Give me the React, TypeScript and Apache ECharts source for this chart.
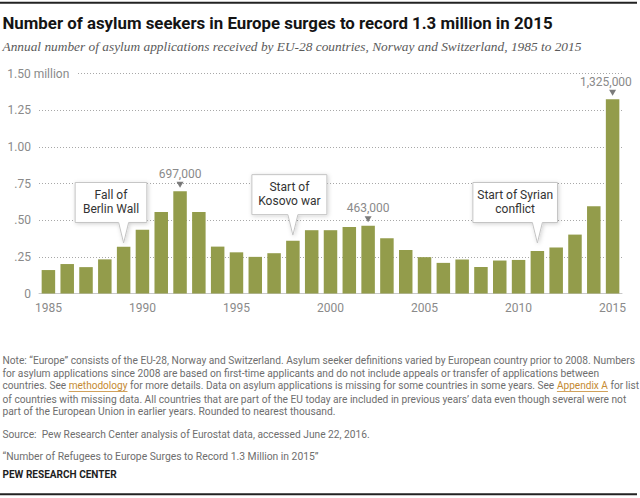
import React, { useEffect, useRef } from 'react';
import * as echarts from 'echarts';

// ---------- data ----------
const YEARS = [
  '1985', '1986', '1987', '1988', '1989', '1990', '1991', '1992', '1993', '1994',
  '1995', '1996', '1997', '1998', '1999', '2000', '2001', '2002', '2003', '2004',
  '2005', '2006', '2007', '2008', '2009', '2010', '2011', '2012', '2013', '2014', '2015',
];
// asylum applications, in millions
const APPLICATIONS = [
  0.160, 0.201, 0.180, 0.233, 0.319, 0.435, 0.556, 0.697, 0.556, 0.320,
  0.281, 0.250, 0.275, 0.360, 0.432, 0.432, 0.454, 0.463, 0.377, 0.297,
  0.248, 0.209, 0.232, 0.181, 0.225, 0.229, 0.290, 0.314, 0.402, 0.595, 1.325,
];
const Y_MAX = 1.5;
const Y_STEP = 0.25;
const LABELED_YEARS = ['1992', '2002', '2015'];
const EVENT_YEARS = ['1989', '1998', '2011'];
const EVENT_TEXT = [
  ['Fall of', 'Berlin Wall'],
  ['Start of', 'Kosovo war'],
  ['Start of Syrian', 'conflict'],
];

const TITLE = 'Number of asylum seekers in Europe surges to record 1.3 million in 2015';
const SUBTITLE =
  'Annual number of asylum applications received by EU-28 countries, Norway and Switzerland, 1985 to 2015';
const NOTE_LINES: { t: string; link?: boolean }[][] = [
  [{ t: 'Note: \u201cEurope\u201d consists of the EU-28, Norway and Switzerland. Asylum seeker definitions varied by European country prior to 2008. Numbers' }],
  [{ t: 'for asylum applications since 2008 are based on first-time applicants and do not include appeals or transfer of applications between' }],
  [
    { t: 'countries. See ' },
    { t: 'methodology', link: true },
    { t: ' for more details. Data on asylum applications is missing for some countries in some years. See ' },
    { t: 'Appendix A', link: true },
    { t: ' for list' },
  ],
  [{ t: 'of countries with missing data. All countries that are part of the EU today are included in previous years\u2019 data even though several were not' }],
  [{ t: 'part of the European Union in earlier years. Rounded to nearest thousand.' }],
];
const SOURCE = 'Source:  Pew Research Center analysis of Eurostat data, accessed June 22, 2016.';
const QUOTE = '\u201cNumber of Refugees to Europe Surges to Record 1.3 Million in 2015\u201d';
const BRAND = 'PEW RESEARCH CENTER';

// ---------- styles / layout ----------
const BAR_COLOR = '#939c4b';
const AXIS_TEXT = '#8a8a8a';
const NOTE_COLOR = '#6e6e6e';
const LINK_COLOR = '#c58a32';
const SANS = "Roboto, 'Liberation Sans', sans-serif";
const NARROW = "'Liberation Sans Narrow', Roboto, sans-serif";
const SERIF = "'Liberation Serif', 'DejaVu Serif', serif";
const LABEL_OFFSETS: Record<string, number[]> = { '2015': [-6.7, 0] };
const CALLOUT_GEOM = [
  { left: -48.5, width: 71.7, gap: 3.8 },
  { left: -41, width: 75, gap: 5.6 },
  { left: -64.5, width: 84.6, gap: 8 },
];
const NOTE_LAYOUT = [
  { y: 360.7, right: 636 },
  { y: 373.3, right: 599.3 },
  { y: 386, right: 639 },
  { y: 399.3, right: 626.7 },
  { y: 412, right: 336 },
];

export default function App() {
  const ref = useRef<HTMLDivElement>(null);

  useEffect(() => {
    document.body.style.margin = '0';
    const chart = echarts.init(ref.current!, null, { renderer: 'svg', width: 640, height: 498 });

    const fmtThousands = (v: number) => Math.round(v * 1e6).toLocaleString('en-US');

    chart.setOption({
      animation: false,
      grid: { left: 39, right: 18, top: 73.7, bottom: 204.5, containLabel: false },
      xAxis: {
        type: 'category',
        data: YEARS,
        axisTick: { show: false },
        axisLine: { lineStyle: { color: '#c8c8c8', width: 1 } },
        axisLabel: { interval: 4, color: AXIS_TEXT, fontSize: 12, fontFamily: SANS, margin: 8 },
      },
      yAxis: {
        type: 'value',
        min: 0,
        max: Y_MAX,
        interval: Y_STEP,
        axisLine: { show: false },
        axisTick: { show: false },
        splitLine: { lineStyle: { type: [1, 2], color: '#a8a8a8', width: 1 } },
        axisLabel: {
          color: AXIS_TEXT,
          fontSize: 12,
          fontFamily: SANS,
          margin: 8,
          formatter: (v: number) => {
            if (v === 0) return '0';
            if (v >= Y_MAX) return '';
            if (v < 1) return '.' + String(Math.round(v * 100)).padStart(2, '0');
            return v.toFixed(2);
          },
        },
      },
      series: [
        {
          type: 'bar',
          barWidth: 13.5,
          itemStyle: { color: BAR_COLOR },
          data: APPLICATIONS.map((v, i) =>
            LABELED_YEARS.includes(YEARS[i])
              ? {
                  value: v,
                  label: {
                    show: true,
                    position: 'top',
                    distance: 11.5,
                    offset: LABEL_OFFSETS[YEARS[i]] || [0, 0],
                    formatter: (p: any) => fmtThousands(p.value),
                    color: AXIS_TEXT,
                    fontSize: 12,
                    fontFamily: SANS,
                  },
                }
              : v
          ),
        },
        {
          type: 'scatter',
          symbol: 'path://M0,0L10,0L5,8Z',
          symbolSize: [7, 6],
          symbolOffset: [0, -6.5],
          itemStyle: { color: '#5a5a5a' },
          z: 5,
          silent: true,
          data: APPLICATIONS.map((v, i) => (LABELED_YEARS.includes(YEARS[i]) ? v : '-')),
        },
      ],
    });

    // ---- text measurement for width-fitted lines ----
    const ctx = document.createElement('canvas').getContext('2d')!;
    const measure = (font: string, t: string) => {
      ctx.font = font;
      return ctx.measureText(t).width;
    };

    const graphics: any[] = [];

    const fitLine = (
      segs: { t: string; link?: boolean }[],
      x0: number,
      y: number,
      right: number,
      f: { size: number; family: string; weight?: string; style?: string },
      color: string
    ) => {
      const weight = f.weight || 'normal';
      const fstyle = f.style || 'normal';
      const fontStr = `${fstyle} ${weight} ${f.size}px ${f.family}`;
      const total = segs.reduce((a, s) => a + measure(fontStr, s.t), 0);
      const sc = (right - x0) / total;
      let acc = 0;
      segs.forEach((s) => {
        const w = measure(fontStr, s.t);
        const x = x0 + acc * sc;
        graphics.push({
          type: 'text',
          x,
          y,
          scaleX: sc,
          z: 30,
          silent: true,
          style: {
            text: s.t,
            fontSize: f.size,
            fontFamily: f.family,
            fontWeight: weight,
            fontStyle: fstyle,
            fill: s.link ? LINK_COLOR : color,
            align: 'left',
            verticalAlign: 'middle',
          },
        });
        if (s.link) {
          graphics.push({
            type: 'line',
            z: 30,
            silent: true,
            shape: { x1: x, y1: y + f.size * 0.55, x2: x + w * sc, y2: y + f.size * 0.55 },
            style: { stroke: LINK_COLOR, lineWidth: 0.8 },
          });
        }
        acc += w;
      });
    };

    // rules
    graphics.push({ type: 'rect', z: 30, silent: true, shape: { x: 0, y: 1.7, width: 637, height: 2 }, style: { fill: '#222' } });
    graphics.push({ type: 'rect', z: 30, silent: true, shape: { x: 0, y: 493.3, width: 637, height: 2 }, style: { fill: '#222' } });

    // title, subtitle
    fitLine([{ t: TITLE }], 2.5, 23.3, 552.7, { size: 17, family: SANS, weight: 'bold' }, '#141414');
    fitLine([{ t: SUBTITLE }], 2.5, 46.7, 581.7, { size: 13.5, family: SERIF, style: 'italic' }, '#5a5a5a');

    // top axis label "1.50 million"
    const topY = chart.convertToPixel({ yAxisIndex: 0 }, Y_MAX) as number;
    graphics.push({ type: 'rect', z: 10, silent: true, shape: { x: 36, y: topY - 4, width: 40.5, height: 8 }, style: { fill: '#fff' } });
    graphics.push({
      type: 'text',
      x: 7.3,
      y: topY,
      z: 11,
      silent: true,
      style: { text: Y_MAX.toFixed(2) + ' million', fontSize: 12, fontFamily: SANS, fill: AXIS_TEXT, align: 'left', verticalAlign: 'middle' },
    });

    // callouts
    EVENT_YEARS.forEach((yr, k) => {
      const idx = YEARS.indexOf(yr);
      const [cx, cy] = chart.convertToPixel({ seriesIndex: 0 }, [idx, APPLICATIONS[idx]]) as number[];
      const g = CALLOUT_GEOM[k];
      const tipY = cy - g.gap;
      const B = tipY - 20.5;
      const T = B - 40;
      const L = cx + g.left;
      const R = L + g.width;
      graphics.push({
        type: 'polygon',
        z: 20,
        silent: true,
        shape: {
          points: [
            [L, T], [R, T], [R, B], [cx + 5, B], [cx, tipY], [cx - 5, B], [L, B],
          ],
        },
        style: {
          fill: '#fff',
          stroke: '#c4c4c4',
          lineWidth: 1,
          shadowBlur: 4,
          shadowColor: 'rgba(0,0,0,0.18)',
          shadowOffsetX: 1,
          shadowOffsetY: 1,
        },
      });
      const midY = (T + B) / 2 - 0.5;
      EVENT_TEXT[k].forEach((line, j) => {
        graphics.push({
          type: 'text',
          x: (L + R) / 2,
          y: midY + (j === 0 ? -7 : 7),
          z: 21,
          silent: true,
          style: { text: line, fontSize: 12, fontFamily: SANS, fill: '#333', align: 'center', verticalAlign: 'middle' },
        });
      });
    });

    // notes
    NOTE_LINES.forEach((segs, i) => {
      fitLine(segs, 2.5, NOTE_LAYOUT[i].y, NOTE_LAYOUT[i].right, { size: 10, family: NARROW }, NOTE_COLOR);
    });
    fitLine([{ t: SOURCE }], 2.5, 434.7, 370, { size: 10, family: NARROW }, NOTE_COLOR);
    fitLine([{ t: QUOTE }], 2.5, 456.7, 319, { size: 10, family: NARROW }, NOTE_COLOR);
    fitLine([{ t: BRAND }], 2.5, 475, 116.7, { size: 10, family: NARROW, weight: 'bold' }, '#1e1e1e');

    chart.setOption({ graphic: graphics });

    return () => chart.dispose();
  }, []);

  return <div ref={ref} style={{ width: 640, height: 498 }} />;
}
